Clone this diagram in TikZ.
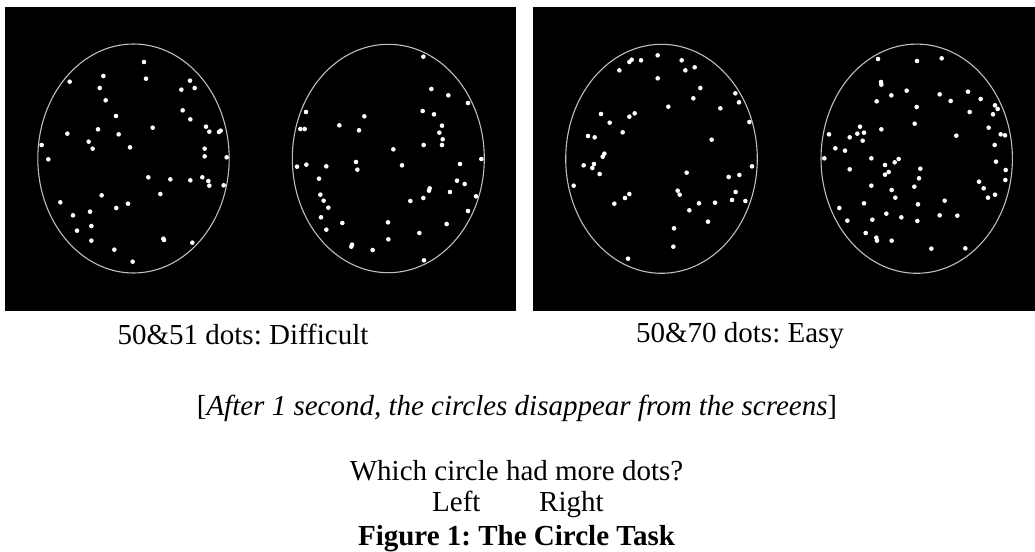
\documentclass[tikz,border=0pt]{standalone}
\usepackage{fontspec}
\setmainfont{Liberation Serif}
\frenchspacing
\definecolor{ringgrey}{RGB}{190,190,190}
\tikzset{
  panel/.style={fill=black, draw=none},
  ring/.style={draw=ringgrey, line width=1.1pt},
  dotw/.style={fill=white, draw=none},
  lab/.style={font=\fontsize{29}{33}\selectfont, inner sep=0pt, anchor=base},
}
\begin{document}
\begin{tikzpicture}[x=1pt, y=-1pt]
\useasboundingbox[fill=white] (0,0) rectangle (1035,551);
% panels
\fill[panel] (5,7) rectangle (516,311);
\fill[panel] (533,7) rectangle (1035,311);
% rings
\draw[ring] (133.5,158.5) ellipse [x radius=95.7pt, y radius=114.5pt];
\draw[ring] (388.3,158.5) ellipse [x radius=96pt, y radius=114.2pt];
\draw[ring] (661.5,158.8) ellipse [x radius=95.8pt, y radius=114.5pt];
\draw[ring] (916.7,158.7) ellipse [x radius=95.7pt, y radius=114.6pt];
% dots: ring 1
\foreach \a/\b in {432/186, 310/228, 438/236, 209/245, 570/242, 299/264, 544/269, 584/264, 317/301, 548/331, 348/348, 571/358, 458/383, 294/388, 618/380, 628/395, 657/396, 662/392, 202/401, 356/403, 125/435, 266/425, 278/446, 390/442, 614/446, 614/469, 680/472, 145/478, 445/532, 511/538, 571/541, 607/532, 625/543, 628/557, 671/556, 481/582, 305/586, 181/607, 384/611, 349/624, 270/635, 219/646, 274/678, 231/692, 490/716, 274/722, 577/728, 343/749, 398/785, 492/720}
  \fill[dotw] ({\a/3},{\b/3}) circle[radius=2.3pt];
% dots: ring 2
\foreach \a/\b in {490/170, 514/267, 565/286, 624/309, 138/336, 488/333, 522/343, 313/349, 238/376, 546/377, 121/387, 134/387, 297/391, 538/398, 548/418, 546/435, 491/435, 400/448, 664/477, 111/500, 139/494, 199/499, 288/486, 292/509, 426/496, 600/492, 177/536, 591/542, 614/552, 509/565, 507/572, 570/576, 181/584, 490/594, 451/603, 648/589, 191/602, 205/623, 624/633, 183/652, 247/669, 384/667, 560/672, 199/689, 478/699, 385/718, 276/734, 274/740, 338/750, 492/781}
  \fill[dotw] ({260+\a/3},{\b/3}) circle[radius=2.3pt];
% dots: ring 3
\foreach \a/\b in {383/166, 305/179, 298/186, 333/181, 455/181, 268/211, 466/211, 494/202, 383/235, 511/264, 616/280, 490/295, 627/307, 415/320, 571/325, 213/342, 298/350, 314/340, 239/368, 658/366, 278/397, 174/408, 194/412, 545/419, 223/461, 218/470, 161/496, 192/492, 187/504, 666/499, 209/522, 470/518, 628/525, 596/531, 131/557, 443/572, 449/584, 617/576, 298/582, 285/594, 253/611, 606/600, 646/603, 507/610, 555/608, 478/631, 534/665, 432/685, 430/740, 294/776}
  \fill[dotw] ({530+\a/3},{\b/3}) circle[radius=2.3pt];
% dots: ring 4
\foreach \a/\b in {309/177, 426/183, 500/175, 318/246, 319/254, 395/272, 349/286, 494/283, 579/275, 527/303, 617/297, 305/304, 660/316, 668/327, 584/336, 425/321, 654/343, 419/371, 255/380, 319/388, 247/401, 267/398, 641/383, 162/403, 224/412, 544/407, 677/403, 690/406, 263/422, 181/445, 210/452, 659/435, 148/475, 289/475, 371/477, 359/487, 330/495, 224/508, 436/506, 663/485, 341/516, 330/524, 432/535, 692/510, 691/540, 612/545, 289/557, 418/560, 626/565, 350/570, 361/593, 639/593, 660/584, 509/602, 267/610, 429/613, 193/624, 334/641, 494/646, 547/647, 379/652, 292/659, 427/663, 217/662, 272/699, 304/713, 306/722, 350/722, 469/746, 571/745}
  \fill[dotw] ({775+\a/3},{\b/3}) circle[radius=2.3pt];
% texts
\node[lab] (lblL) at (243,344) {50\&51 dots: Difficult};
\node[lab] (lblR) at (740,342) {50\&70 dots: Easy};
\node[lab] (after) at (517,415) {[\textit{After 1 second, the circles disappear from the screens}]};
\node[lab] (which) at (516.5,480) {Which circle had more dots?};
\node[lab, anchor=base west] (left) at (432,511) {Left};
\node[lab, anchor=base west] (right) at (539,511) {Right};
\node[lab] (fig) at (516.5,545) {\textbf{Figure 1: The Circle Task}};
\end{tikzpicture}
\end{document}
